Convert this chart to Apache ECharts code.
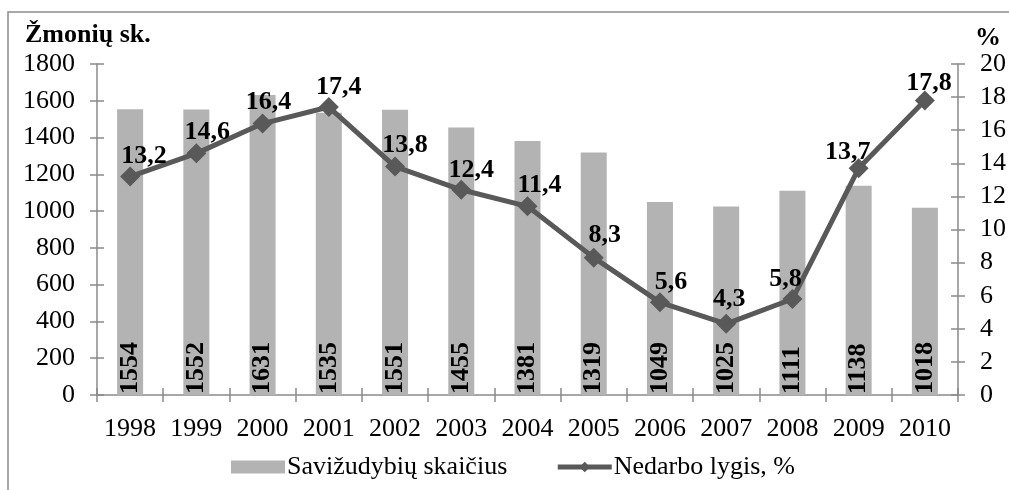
<!DOCTYPE html>
<html>
<head>
<meta charset="utf-8">
<script src="https://cdn.jsdelivr.net/npm/echarts@6/dist/echarts.min.js"></script>
<style>
	html, body { margin: 0; padding: 0; background: #fff; }
	#chart { width: 1009px; height: 490px; }
</style>
</head>
<body>
<div id="chart"></div>
<script>
const years = ['1998', '1999', '2000', '2001', '2002', '2003', '2004', '2005', '2006', '2007', '2008', '2009', '2010'];
const suicides = [1554, 1552, 1631, 1535, 1551, 1455, 1381, 1319, 1049, 1025, 1111, 1138, 1018];
const unemployment = [13.2, 14.6, 16.4, 17.4, 13.8, 12.4, 11.4, 8.3, 5.6, 4.3, 5.8, 13.7, 17.8];
// label nudges (px) for the line labels, like hand placed ones in the original
const labelDx = [14, 11, 6, 10, 10, 10, 12, 11, 11, 3, -7, -11, 4];
const labelDy = [3, 2, 2, 3, 2, 4, 2, 1, 3, -2, 3, 7, 6];

const FONT = '"Liberation Serif", "Times New Roman", serif';
const AXIS_COLOR = '#8a8a8a';
const BAR_COLOR = '#b3b3b3';
const LINE_COLOR = '#595959';
const FS = 26;

const chart = echarts.init(document.getElementById('chart'));

const lineData = unemployment.map((v, i) => ({
	value: v,
	label: { offset: [labelDx[i], labelDy[i]] }
}));

// one axis draws outside ticks, a twin draws inside ticks -> cross ticks like Excel
function yAxisDef(pos, max, interval, inside) {
	return {
		type: 'value',
		position: pos,
		min: 0,
		max: max,
		interval: interval,
		splitLine: { show: false },
		axisLine: { show: !inside, lineStyle: { color: AXIS_COLOR, width: 1.5 } },
		axisTick: { show: true, inside: inside, length: 7, lineStyle: { color: AXIS_COLOR, width: 1.5 } },
		axisLabel: {
			show: !inside,
			formatter: (v) => String(v),
			fontFamily: FONT, fontSize: FS, color: '#000', margin: 22
		}
	};
}

chart.setOption({
	animation: false,
	textStyle: { fontFamily: FONT },
	grid: { left: 97, right: 49, top: 64, bottom: 95 },
	graphic: [
		{
			type: 'rect',
			shape: { x: 8, y: 12, width: 1100, height: 600 },
			style: { fill: 'none', stroke: '#8c8c8c', lineWidth: 1.5 },
			silent: true
		},
		{
			type: 'text', left: 25, top: 22,
			style: { text: 'Žmonių sk.', font: 'bold ' + FS + 'px ' + FONT, fill: '#000' }
		},
		{
			type: 'text', left: 975, top: 25,
			style: { text: '%', font: 'bold ' + FS + 'px ' + FONT, fill: '#000' }
		}
	],
	legend: {
		left: 231,
		top: 454,
		padding: 0,
		itemWidth: 54,
		itemHeight: 13,
		itemGap: 48,
		textStyle: { fontFamily: FONT, fontSize: FS, color: '#000', padding: [0, 0, 0, -3] },
		data: [
			{ name: 'Savižudybių skaičius', icon: 'rect' },
			{
				name: 'Nedarbo lygis, %',
				itemStyle: { color: LINE_COLOR },
				lineStyle: { color: LINE_COLOR, width: 5 }
			}
		]
	},
	xAxis: [
		{
			type: 'category',
			data: years,
			position: 'bottom',
			axisLine: { lineStyle: { color: AXIS_COLOR, width: 1.5 } },
			axisTick: { show: true, length: 7, lineStyle: { color: AXIS_COLOR, width: 1.5 } },
			axisLabel: { interval: 0, fontFamily: FONT, fontSize: FS, color: '#000', margin: 21 }
		},
		{
			type: 'category',
			data: years,
			position: 'bottom',
			axisLine: { show: false },
			axisTick: { show: true, inside: true, length: 7, lineStyle: { color: AXIS_COLOR, width: 1.5 } },
			axisLabel: { show: false }
		}
	],
	yAxis: [
		yAxisDef('left', 1800, 200, false),
		yAxisDef('right', 20, 2, false),
		yAxisDef('left', 1800, 200, true),
		yAxisDef('right', 20, 2, true)
	],
	series: [
		{
			name: 'Savižudybių skaičius',
			type: 'bar',
			xAxisIndex: 0,
			yAxisIndex: 0,
			barWidth: 26,
			data: suicides,
			itemStyle: { color: BAR_COLOR },
			label: {
				show: true,
				position: 'insideBottom',
				rotate: 90,
				align: 'left',
				verticalAlign: 'middle',
				distance: 3,
				offset: [-2, 0],
				fontFamily: FONT,
				fontSize: FS,
				fontWeight: 'bold',
				color: '#000'
			},
			z: 2
		},
		{
			name: 'Nedarbo lygis, %',
			type: 'line',
			xAxisIndex: 0,
			yAxisIndex: 1,
			data: lineData,
			symbol: 'diamond',
			symbolSize: 20,
			itemStyle: { color: LINE_COLOR },
			lineStyle: { color: LINE_COLOR, width: 5 },
			label: {
				show: true,
				position: 'top',
				distance: 0,
				formatter: (p) => String(p.value).replace('.', ','),
				fontFamily: FONT,
				fontSize: FS,
				fontWeight: 'bold',
				color: '#000'
			},
			z: 5
		}
	]
});
</script>
</body>
</html>
